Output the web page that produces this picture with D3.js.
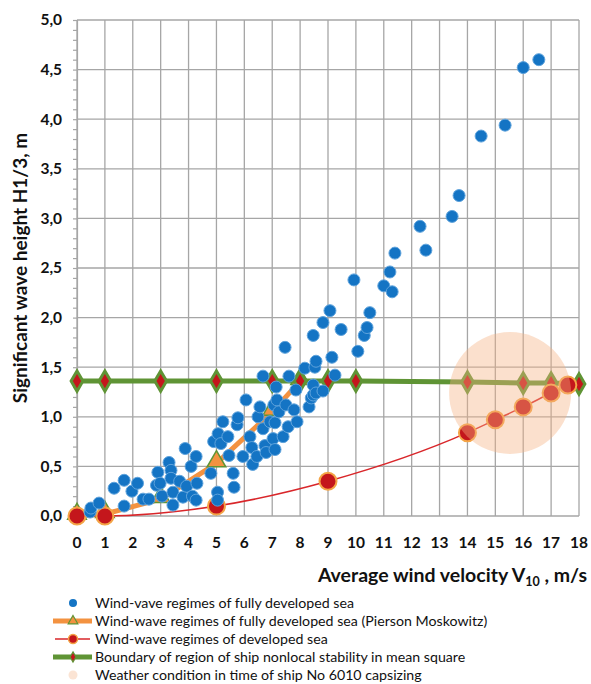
<!DOCTYPE html>
<html><head><meta charset="utf-8">
<script src="https://cdn.jsdelivr.net/npm/d3@7/dist/d3.min.js"></script>
<style>
html,body{margin:0;padding:0;background:#fff;}
svg{display:block;font-family:Lato,"Open Sans",sans-serif;}
</style></head>
<body><svg id="c" width="591" height="684"></svg>
<script>
// ---- data ----
const xTicks = [0,1,2,3,4,5,6,7,8,9,10,11,12,13,14,15,16,17,18];
const yTicks = [0,0.5,1,1.5,2,2.5,3,3.5,4,4.5,5];

const scatterX = [0.47,0.5,0.79,1.33,1.69,1.69,1.97,2.17,2.37,2.58,2.85,2.9,2.98,3.05,3.3,3.37,3.37,3.44,3.44,3.68,3.8,3.88,3.93,4.09,4.14,4.27,4.27,4.3,4.8,4.9,5.06,5.04,5.04,5.16,5.23,5.41,5.45,5.6,5.63,5.74,5.77,5.95,6.06,6.2,6.27,6.3,6.45,6.49,6.56,6.67,6.67,6.74,6.78,6.92,7.03,7.06,7.1,7.1,7.14,7.17,7.24,7.39,7.46,7.49,7.57,7.6,7.78,7.85,7.89,8.17,8.32,8.4,8.47,8.47,8.53,8.57,8.57,8.47,8.82,8.82,9.07,9.14,9.25,9.47,10.07,10.3,10.4,10.5,9.93,11.0,11.22,11.3,11.4,12.3,12.51,13.45,13.7,14.49,15.35,16.0,16.56];
const scatterY = [0.04,0.08,0.13,0.28,0.36,0.10,0.25,0.33,0.17,0.17,0.31,0.44,0.33,0.2,0.54,0.46,0.38,0.24,0.11,0.35,0.19,0.68,0.3,0.5,0.2,0.6,0.16,0.33,0.43,0.75,0.83,0.24,0.16,0.73,0.95,0.8,0.61,0.43,0.29,0.92,0.99,0.6,1.17,0.8,0.69,0.52,0.6,1.0,1.1,1.41,0.88,0.71,0.64,0.95,0.78,1.12,0.94,0.67,1.3,1.17,1.05,0.8,1.7,1.12,0.9,1.41,1.07,1.27,0.95,1.49,1.1,1.19,1.22,1.32,1.5,1.56,1.24,1.82,1.95,1.26,2.07,1.6,1.42,1.88,1.66,1.82,1.9,2.05,2.38,2.32,2.46,2.26,2.65,2.92,2.68,3.02,3.23,3.83,3.94,4.52,4.6];

const pmX = [0,1,3,5,7,8];
const pmY = [0,0.02,0.17,0.53,1.05,1.36];

const devX = [0,1,5,9,14,15,16,17,17.6];
const devY = [0,0,0.1,0.35,0.84,0.97,1.1,1.24,1.32];

const bndX = [0,1,3,5,7,8,9,10,14,16,17,18];
const bndY = [1.36,1.36,1.36,1.36,1.36,1.36,1.36,1.36,1.35,1.34,1.34,1.33];

const capsizeX = [15.53];
const capsizeY = [1.24];

const legendLabels = [
  "Wind-vave regimes of fully developed sea",
  "Wind-wave regimes of fully developed sea (Pierson Moskowitz)",
  "Wind-wave regimes of developed sea",
  "Boundary of region of ship nonlocal stability in mean square",
  "Weather condition in time of ship No 6010 capsizing"
];

// ---- drawing ----
const svg = d3.select("#c");
const x = d3.scaleLinear().domain([0,18]).range([77,579]);
const y = d3.scaleLinear().domain([0,5]).range([516,20]);

const C = {
  grid:"#a6a6a6", blue:"#1474c4", blueEdge:"#5fa3dc",
  orange:"#f39240", green:"#5f9435", red:"#c4161c", redEdge:"#f4a446",
  peach:"#f4b183", text:"#111"
};

// gridlines
const g = svg.append("g");
g.selectAll(".vg").data(xTicks).join("line")
  .attr("x1",d=>x(d)).attr("x2",d=>x(d)).attr("y1",y(0)).attr("y2",y(5))
  .attr("stroke",C.grid).attr("stroke-width",1.3);
g.selectAll(".hg").data(yTicks).join("line")
  .attr("x1",x(0)).attr("x2",x(18)).attr("y1",d=>y(d)).attr("y2",d=>y(d))
  .attr("stroke",C.grid).attr("stroke-width",1.3);

// y axis with minor ticks
const yAxis = d3.axisLeft(y).ticks(50).tickSize(4).tickFormat("");
const ya = svg.append("g").attr("transform",`translate(${x(0)},0)`).call(yAxis);
ya.selectAll("path,line").attr("stroke",C.grid).attr("stroke-width",1.2);

// y tick labels
svg.append("g").selectAll("text").data(yTicks).join("text")
  .attr("x",62).attr("y",d=>y(d)).attr("dy","0.35em")
  .attr("text-anchor","end").attr("font-weight","bold").attr("font-size",15.5)
  .attr("fill",C.text).text(d=>d3.format(".1f")(d).replace(".",","));

// x tick labels
svg.append("g").selectAll("text").data(xTicks).join("text")
  .attr("x",d=>x(d)).attr("y",548)
  .attr("text-anchor","middle").attr("font-weight","bold").attr("font-size",15.5)
  .attr("fill",C.text).text(d=>d);

// axis titles
svg.append("text").attr("transform","translate(27,268) rotate(-90)")
  .attr("text-anchor","middle").attr("font-weight","bold").attr("font-size",19)
  .attr("fill",C.text).text("Significant wave height H1/3, m");
const xt = svg.append("text").attr("x",587).attr("y",582).attr("text-anchor","end")
  .attr("font-weight","bold").attr("font-size",19.5).attr("fill",C.text);
xt.append("tspan").text("Average wind velocity V");
xt.append("tspan").attr("font-size",12.5).attr("dy",4).text("10");
xt.append("tspan").attr("dy",-4).text(" , m/s");

const pm = pmX.map((d,i)=>[d,pmY[i]]);
const dev = devX.map((d,i)=>[d,devY[i]]);
const bnd = bndX.map((d,i)=>[d,bndY[i]]);
const pts = scatterX.map((d,i)=>[d,scatterY[i]]);

const line = d3.line().x(d=>x(d[0])).y(d=>y(d[1]));
const tri = d3.symbol().type(d3.symbolTriangle).size(150);
const dia = d3.symbol().type(d3.symbolDiamond).size(120);

// PM series
svg.append("path").datum(pm).attr("d",line).attr("fill","none")
  .attr("stroke",C.orange).attr("stroke-width",5).attr("stroke-linejoin","round");
svg.append("g").selectAll("path").data(pm).join("path")
  .attr("transform",d=>`translate(${x(d[0])},${y(d[1])-2})`).attr("d",tri)
  .attr("fill",C.orange).attr("stroke",C.green).attr("stroke-width",1.5);

// boundary
svg.append("path").datum(bnd).attr("d",line).attr("fill","none")
  .attr("stroke",C.green).attr("stroke-width",5);
svg.append("g").selectAll("path").data(bnd).join("path")
  .attr("transform",d=>`translate(${x(d[0])},${y(d[1])})`).attr("d",dia)
  .attr("fill",C.red).attr("stroke",C.green).attr("stroke-width",3);

// developed sea
svg.append("path").datum(dev).attr("d",d3.line().curve(d3.curveMonotoneX).x(d=>x(d[0])).y(d=>y(d[1])))
  .attr("fill","none").attr("stroke","#d9262a").attr("stroke-width",1.5);
svg.append("g").selectAll("circle").data(dev).join("circle")
  .attr("cx",d=>x(d[0])).attr("cy",d=>y(d[1])).attr("r",8.5)
  .attr("fill",C.red).attr("stroke",C.redEdge).attr("stroke-width",2);

// scatter
svg.append("g").selectAll("circle").data(pts).join("circle")
  .attr("cx",d=>x(d[0])).attr("cy",d=>y(d[1])).attr("r",6)
  .attr("fill",C.blue).attr("stroke",C.blueEdge).attr("stroke-width",1);

// capsize bubble
svg.append("g").selectAll("circle").data(capsizeX.map((d,i)=>[d,capsizeY[i]])).join("circle")
  .attr("cx",d=>x(d[0])).attr("cy",d=>y(d[1])).attr("r",61)
  .attr("fill",C.peach).attr("fill-opacity",0.4);

// legend
const lg = svg.append("g");
const rowY = i => 603 + i*18;
lg.selectAll("text").data(legendLabels).join("text")
  .attr("x",95).attr("y",(d,i)=>rowY(i)).attr("dy","0.35em")
  .attr("font-size",14.2).attr("fill",C.text).text(d=>d);
// symbols
lg.append("circle").attr("cx",73).attr("cy",rowY(0)).attr("r",4).attr("fill",C.blue);
lg.append("line").attr("x1",53).attr("x2",92).attr("y1",rowY(1)).attr("y2",rowY(1))
  .attr("stroke",C.orange).attr("stroke-width",5);
lg.append("path").attr("transform",`translate(73,${rowY(1)})`).attr("d",d3.symbol().type(d3.symbolTriangle).size(40))
  .attr("fill",C.orange).attr("stroke",C.green).attr("stroke-width",1.2);
lg.append("line").attr("x1",55).attr("x2",90).attr("y1",rowY(2)).attr("y2",rowY(2))
  .attr("stroke","#d9262a").attr("stroke-width",1.5);
lg.append("circle").attr("cx",73).attr("cy",rowY(2)).attr("r",4.5)
  .attr("fill",C.red).attr("stroke",C.redEdge).attr("stroke-width",1.5);
lg.append("line").attr("x1",53).attr("x2",92).attr("y1",rowY(3)).attr("y2",rowY(3))
  .attr("stroke",C.green).attr("stroke-width",5);
lg.append("path").attr("transform",`translate(73,${rowY(3)})`).attr("d",d3.symbol().type(d3.symbolDiamond).size(30))
  .attr("fill",C.red).attr("stroke",C.green).attr("stroke-width",1.2);
lg.append("circle").attr("cx",73).attr("cy",rowY(4)).attr("r",4.5)
  .attr("fill",C.peach).attr("fill-opacity",0.35);
</script></body></html>
